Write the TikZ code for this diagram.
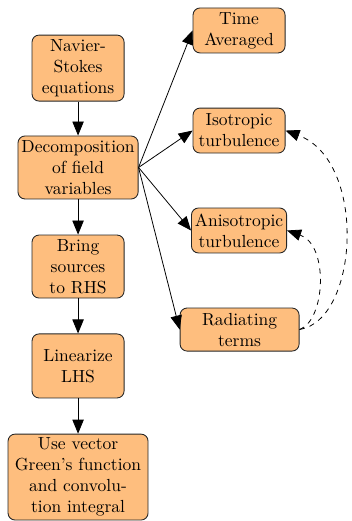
\documentclass[tikz,border=0pt]{standalone}
\usetikzlibrary{arrows.meta}
\definecolor{boxfill}{RGB}{254,190,126}
\begin{document}
\begin{tikzpicture}[x=1pt,y=1pt,
  box/.style={draw=black!85, line width=0.5pt, fill=boxfill, rounded corners=4pt,
    align=center, inner sep=2pt, font=\normalsize},
  arr/.style={-{Triangle[length=8pt,width=6.5pt]}, line width=0.45pt},
  darr/.style={arr, dashed}]
\useasboundingbox (0,0) rectangle (200.6,-297.7);
\node[box, minimum width=52.6pt, minimum height=37.7pt] (nav) at (44.6,-38.9) {Navier-\\Stokes\\equations};
\node[box, minimum width=66.3pt, minimum height=36pt] (dec) at (44.6,-95.7) {Decomposition\\of field\\variables};
\node[box, minimum width=52.6pt, minimum height=36pt] (bring) at (44.6,-152.3) {Bring\\sources\\to RHS};
\node[box, minimum width=52.6pt, minimum height=36.6pt] (lin) at (44.6,-209.1) {Linearize\\LHS};
\node[box, minimum width=80pt, minimum height=49.1pt] (use) at (44.6,-272.6) {Use vector\\Green's function\\and convolu-\\tion integral};
\node[box, minimum width=52.6pt, minimum height=25.7pt] (time) at (136.6,-17.4) {Time\\Averaged};
\node[box, minimum width=52.6pt, minimum height=25.7pt] (iso) at (136.6,-74.6) {Isotropic\\turbulence};
\node[box, minimum width=52.6pt, minimum height=25.7pt] (aniso) at (136.6,-131.7) {Anisotropic\\turbulence};
\node[box, minimum width=68pt, minimum height=24.6pt] (rad) at (136.9,-188.3) {Radiating\\terms};
\draw[arr] (nav) -- (dec);
\draw[arr] (dec) -- (bring);
\draw[arr] (bring) -- (lin);
\draw[arr] (lin) -- (use);
\draw[arr] (dec.east) -- (time.west);
\draw[arr] (dec.east) -- (iso.west);
\draw[arr] (dec.east) -- (aniso.west);
\draw[arr] (dec.east) -- (rad.west);
\draw[darr] (rad.east) .. controls (205,-183) and (210,-92) .. (iso.east);
\draw[darr] (rad.east) .. controls (186,-183) and (188,-140) .. (aniso.east);
\end{tikzpicture}
\end{document}
